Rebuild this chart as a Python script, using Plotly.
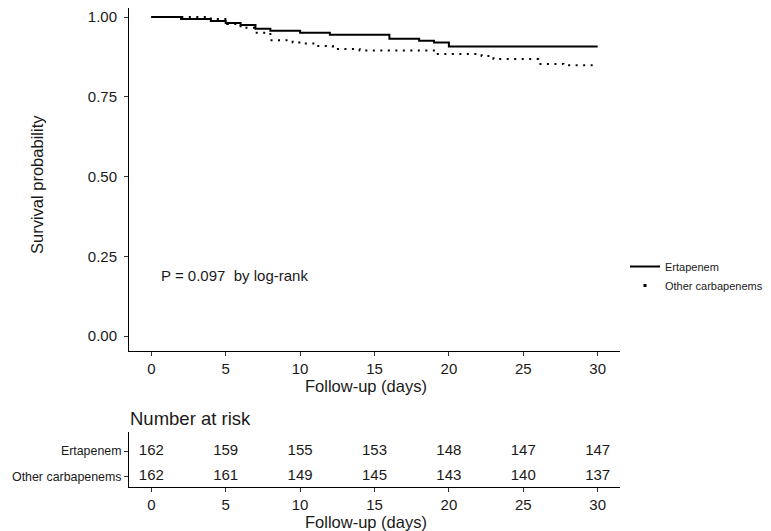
import plotly.graph_objects as go

# ---------------- data ----------------
erta_time = [0, 2, 4, 5, 6, 7, 8, 10, 12, 16, 18, 19, 20, 30]
erta_surv = [1.0, 0.9938, 0.9877, 0.9815, 0.9753, 0.9630, 0.9568, 0.9506,
             0.9444, 0.9321, 0.9259, 0.9198, 0.9074, 0.9074]

other_time = [0, 4.0, 5.1, 6.0, 7.0, 8.0, 9.5, 10.2, 11.0, 12.2, 14.0,
              19.1, 22.2, 23.0, 26.0, 27.7, 30]
other_surv = [1.0, 0.9938, 0.978, 0.966, 0.951, 0.927, 0.920, 0.917, 0.909,
              0.900, 0.895, 0.884, 0.878, 0.868, 0.853, 0.849, 0.849]

risk_times = [0, 5, 10, 15, 20, 25, 30]
risk_erta = [162, 159, 155, 153, 148, 147, 147]
risk_other = [162, 161, 149, 145, 143, 140, 137]

groups = ["Ertapenem", "Other carbapenems"]
x_ticks = [0, 5, 10, 15, 20, 25, 30]
y_ticks = [0.0, 0.25, 0.5, 0.75, 1.0]
y_ticktext = ["0.00", "0.25", "0.50", "0.75", "1.00"]
p_text = "P = 0.097 \u00a0by log-rank"

FONT = "Liberation Sans, Arial, sans-serif"
TXT = "#1a1a1a"

fig = go.Figure()

# survival curves (dotted first so solid sits on top)
fig.add_trace(go.Scatter(x=other_time, y=other_surv, mode="lines",
                         line=dict(color="black", width=2, dash="2px,5.5px", shape="hv"),
                         showlegend=False, hoverinfo="skip", xaxis="x", yaxis="y"))
fig.add_trace(go.Scatter(x=erta_time, y=erta_surv, mode="lines",
                         line=dict(color="black", width=2, shape="hv"),
                         showlegend=False, hoverinfo="skip", xaxis="x", yaxis="y"))

# legend entries
fig.add_trace(go.Scatter(x=[None], y=[None], mode="lines", name=groups[0],
                         line=dict(color="black", width=2), xaxis="x", yaxis="y"))
fig.add_trace(go.Scatter(x=[None], y=[None], mode="markers", name=groups[1],
                         marker=dict(color="black", size=3, symbol="square"),
                         xaxis="x", yaxis="y"))

# number at risk table
fig.add_trace(go.Scatter(x=risk_times, y=[2] * len(risk_times), mode="text",
                         text=[str(v) for v in risk_erta], textposition="middle center",
                         textfont=dict(family=FONT, size=15, color=TXT),
                         showlegend=False, hoverinfo="skip", xaxis="x2", yaxis="y2"))
fig.add_trace(go.Scatter(x=risk_times, y=[1] * len(risk_times), mode="text",
                         text=[str(v) for v in risk_other], textposition="middle center",
                         textfont=dict(family=FONT, size=15, color=TXT),
                         showlegend=False, hoverinfo="skip", xaxis="x2", yaxis="y2"))

axis_common = dict(showline=True, linecolor="black", linewidth=1, ticks="outside",
                   ticklen=4, tickcolor="#333", tickwidth=1, showgrid=False,
                   zeroline=False, automargin=False,
                   tickfont=dict(family=FONT, size=15, color=TXT))

# page is shown with an 8px body margin -> figure is smaller and shifted
OFF = 8
W, H = 771 - OFF, 531 - OFF
L = 129 - OFF           # y-axis line at page x=129
R = 771 - 620           # x-axis ends at page x=620
T = 0
B = 531 - 487           # lower axis line at page y=487
pw = W - L - R
ph = H - T - B


def px_x(xp):
    return (xp - OFF - L) / pw


def px_y(yp):
    return (H - B - (yp - OFF)) / ph


top_val = 1.0 + (17 - OFF) / 319.0

fig.update_layout(
    template="none",
    width=W, height=H,
    margin=dict(l=L, r=R, t=T, b=B, autoexpand=False),
    paper_bgcolor="white", plot_bgcolor="white",
    font=dict(family=FONT, color=TXT),
    xaxis=dict(axis_common, range=[-1.5, 31.5], tickvals=x_ticks, anchor="y",
               domain=[0, 1]),
    yaxis=dict(axis_common, range=[-0.047, top_val], tickvals=y_ticks, ticktext=y_ticktext,
               domain=[px_y(351), 1], anchor="x", ticklabelstandoff=4),
    xaxis2=dict(axis_common, range=[-1.5, 31.5], tickvals=x_ticks, anchor="y2",
                domain=[0, 1]),
    yaxis2=dict(axis_common, range=[0.60, 2.74], tickvals=[1, 2],
                ticktext=[groups[1], groups[0]], anchor="x2",
                domain=[0, px_y(432)], ticklabelstandoff=0,
                tickfont=dict(family=FONT, size=12.4, color=TXT)),
    legend=dict(x=px_x(625), y=px_y(252), xanchor="left", yanchor="top",
                font=dict(family=FONT, size=11, color=TXT), bgcolor="rgba(0,0,0,0)"),
    annotations=[
        dict(text="Survival probability", x=px_x(37), y=px_y(185), xref="paper",
             yref="paper", xanchor="center", yanchor="middle", showarrow=False,
             textangle=-90, font=dict(family=FONT, size=16.5, color=TXT)),
        dict(text="Follow-up (days)", x=px_x(366), y=px_y(386), xref="paper",
             yref="paper", xanchor="center", yanchor="middle", showarrow=False,
             font=dict(family=FONT, size=16.5, color=TXT)),
        dict(text="Follow-up (days)", x=px_x(366), y=px_y(522), xref="paper",
             yref="paper", xanchor="center", yanchor="middle", showarrow=False,
             font=dict(family=FONT, size=16.5, color=TXT)),
        dict(text="Number at risk", x=px_x(128), y=px_y(418), xref="paper",
             yref="paper", xanchor="left", yanchor="middle", showarrow=False,
             font=dict(family=FONT, size=18.5, color=TXT)),
        dict(text=p_text, x=0.5, y=0.19, xref="x", yref="y", xanchor="left",
             yanchor="middle", showarrow=False,
             font=dict(family=FONT, size=15, color=TXT)),
    ],
)

fig.write_html("out.html")
